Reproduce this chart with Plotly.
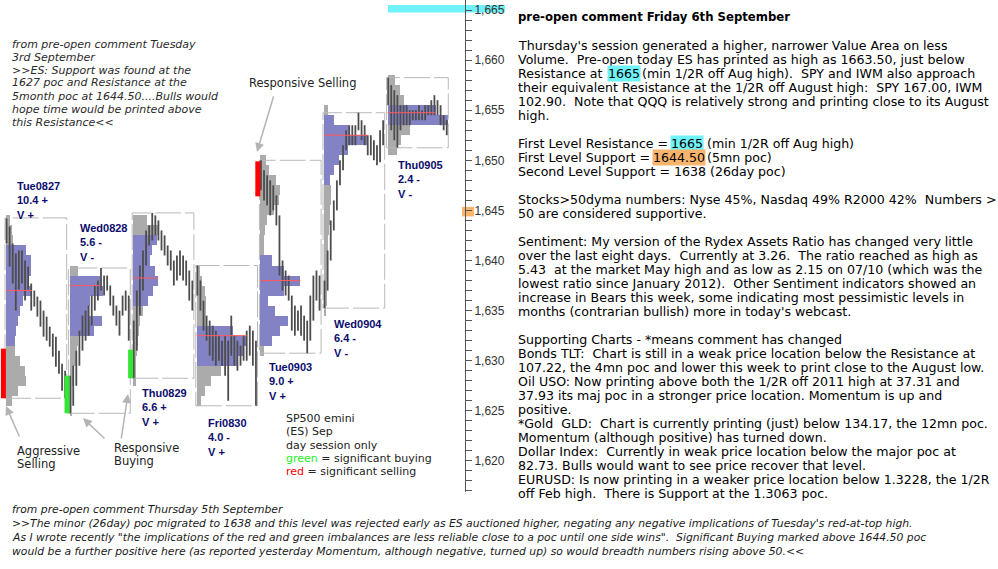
import plotly.graph_objects as go

W, H = 998, 569

# ---------------- data ----------------
days = ["Tue0827", "Wed0828", "Thu0829", "Fri0830", "Tue0903", "Wed0904", "Thu0905"]
range_txt = ["10.4 +", "5.6 -", "6.6 +", "4.0 -", "9.0 +", "6.4 -", "2.4 -"]
vol_txt = ["V +", "V -", "V +", "V +", "V +", "V -", "V -"]

day_high = [1644.25, 1639.25, 1644.75, 1639.5, 1650.0, 1654.75, 1658.25]
day_low = [1626.25, 1624.75, 1628.25, 1625.5, 1630.75, 1635.25, 1651.25]
poc = [1637.0, 1637.5, 1638.25, 1632.5, 1638.0, 1652.5, 1654.75]
va_low_lvl = [1632, 1633, 1636, 1630, 1632, 1648, 1654]
va_high_lvl = [1641, 1638, 1642, 1633, 1640, 1654, 1655]

# volume profile: lowest price level and relative volume per 1-pt level (low -> high)
prof_start = [1626, 1625, 1628, 1626, 1631, 1635, 1651]
prof_vol = [
    [6, 12, 20, 19, 14, 9, 9, 10, 12, 14, 17, 26, 22, 25, 25, 20, 7, 6, 4],
    [2, 2, 2, 3, 4, 6, 7, 8, 24, 32, 18, 20, 33, 30, 8],
    [3, 3, 3, 4, 5, 6, 7, 10, 15, 20, 25, 22, 17, 19, 24, 25, 14],
    [4, 8, 14, 24, 40, 47, 50, 36, 9, 9, 9, 8, 5, 3],
    [4, 12, 20, 28, 15, 8, 24, 40, 24, 12, 4, 4, 5, 7, 14, 19, 20, 16, 9, 6],
    [2, 3, 3, 3, 3, 3, 4, 4, 5, 6, 6, 7, 7, 6, 10, 15, 24, 44, 25, 10, 4],
    [9, 13, 22, 60, 48, 16, 12, 7],
]

# price bars (20 per session): highs and lows
bar_hi = [
    [1644.2, 1643.4, 1641.7, 1640.7, 1641.0, 1641.0, 1640.0, 1639.4, 1637.7, 1637.0,
     1636.4, 1636.0, 1635.0, 1634.4, 1633.4, 1632.7, 1632.4, 1631.0, 1629.7, 1629.0],
    [1628.5, 1629.5, 1631, 1633, 1634.5, 1635, 1635.5, 1636.5, 1637.5, 1638,
     1639.25, 1638.5, 1638.5, 1637.5, 1636.5, 1635.5, 1635, 1636.5, 1637, 1636.5],
    [1634, 1637, 1639.5, 1641, 1643, 1643.5, 1644.75, 1644.5, 1644, 1643,
     1642.5, 1641.5, 1641, 1640, 1640.5, 1641, 1640.5, 1640, 1639, 1638],
    [1639.5, 1638, 1636, 1634.5, 1634, 1633.5, 1633, 1632.5, 1632, 1632.5,
     1632, 1634.5, 1632.5, 1632, 1631.5, 1632.5, 1633, 1633.5, 1633, 1632],
    [1650, 1649, 1648.5, 1648, 1647.5, 1646.5, 1644.5, 1640, 1639, 1638.5,
     1636.5, 1635.5, 1635, 1635.5, 1634.5, 1634, 1636.5, 1638.5, 1639, 1638.5],
    [1638, 1641, 1644, 1646, 1648, 1650, 1651.5, 1653, 1653.5, 1653.5,
     1653.5, 1654.75, 1654, 1653.5, 1652.5, 1652.5, 1652, 1651.5, 1653, 1654],
    [1658.25, 1657.5, 1657, 1656.5, 1655.5, 1655.5, 1655.5, 1655, 1655, 1655,
     1655.5, 1655, 1655.5, 1655.5, 1656, 1656.5, 1656, 1655.5, 1654.5, 1654],
]
bar_lo = [
    [1641.7, 1639.4, 1637.7, 1635.0, 1637.1, 1637.7, 1636.0, 1637.1, 1635.0, 1635.4,
     1634.4, 1633.4, 1632.4, 1632.0, 1631.4, 1630.4, 1629.4, 1628.7, 1627.0, 1626.25],
    [1624.75, 1625.5, 1627.5, 1629.5, 1631, 1632, 1632.5, 1633.5, 1635, 1636,
     1637, 1636.5, 1637, 1635.5, 1634.5, 1633.5, 1632.5, 1634.5, 1635, 1632],
    [1628.25, 1631, 1634.5, 1637, 1639.5, 1641.5, 1642, 1642.5, 1642, 1641,
     1640.5, 1639.5, 1639, 1637.5, 1638, 1638.5, 1638, 1637.5, 1636, 1635],
    [1636.5, 1635, 1633, 1632, 1630.5, 1630, 1629.5, 1630, 1629.5, 1628.5,
     1626, 1630.5, 1629.5, 1629, 1629.5, 1630, 1630, 1630.5, 1629.5, 1625.5],
    [1647, 1646, 1645.5, 1644.5, 1645, 1643.5, 1638.5, 1637, 1636.5, 1636,
     1633, 1632.5, 1633, 1632.5, 1632, 1630.75, 1632, 1634, 1636, 1635],
    [1635.25, 1637, 1640, 1643, 1645, 1647.5, 1649, 1651, 1651.5, 1651.5,
     1651.5, 1653, 1652, 1651.5, 1650.5, 1650.5, 1650, 1649.5, 1649.8, 1651.5],
    [1655.5, 1653, 1652, 1651.25, 1653, 1653.5, 1653.5, 1653.5, 1654, 1654,
     1654, 1654, 1654, 1654.5, 1654.5, 1654.5, 1654.5, 1653.5, 1653, 1652.5],
]

# significant buying / selling imbalances: day index, low, high, kind
imb_day = [0, 1, 2, 4]
imb_low = [1626.25, 1624.75, 1628.25, 1646.4]
imb_high = [1631.2, 1628.5, 1631.1, 1649.9]
imb_kind = ["sell", "buy", "buy", "sell"]

resistance_1 = 1665.0
support_1 = 1644.5

# ---------------- geometry helpers ----------------
PX_PER_DAY = 63.6
X0_PX = 5.0
AXIS_PX = 465.0
XR = [(0 - X0_PX) / PX_PER_DAY, (AXIS_PX - X0_PX) / PX_PER_DAY]
PLOT_BOTTOM_PX = 492.0
PPP = 10.02  # pixels per point
YR = [1665 - (PLOT_BOTTOM_PX - 10) / PPP, 1665 + 10 / PPP]
DAY_W = 0.97
VOL_SCALE = 1.0 / PX_PER_DAY


def px(x):
    return x / W


def py(y):
    return 1 - y / H


fig = go.Figure()

GRAY = "#ababab"
BLUE = "rgba(28,28,150,0.55)"

# boxes
for i in range(len(days)):
    x0, x1 = i, i + DAY_W
    fig.add_trace(go.Scatter(
        x=[x0, x1, x1, x0, x0], y=[day_low[i], day_low[i], day_high[i], day_high[i], day_low[i]],
        mode="lines", line=dict(color="#b9b9b9", width=1, dash="26px,4px"),
        hoverinfo="skip", showlegend=False))

# gray profile (outside value area)
for i in range(len(days)):
    lv = [prof_start[i] + k for k in range(len(prof_vol[i]))]
    ys = [l for l in lv if not (va_low_lvl[i] <= l <= va_high_lvl[i])]
    xs = [prof_vol[i][l - prof_start[i]] * VOL_SCALE for l in ys]
    fig.add_trace(go.Bar(orientation="h", y=ys, x=xs, base=[i + 0.015] * len(ys), width=1.0,
                         marker=dict(color=GRAY, line=dict(width=0)), hoverinfo="skip",
                         showlegend=False))

# price bars
px_list, py_list = [], []
for i in range(len(days)):
    n = len(bar_hi[i])
    for j in range(n):
        xx = i + (j + 0.5) / n * DAY_W
        px_list += [xx, xx, None]
        py_list += [bar_lo[i][j], bar_hi[i][j], None]
fig.add_trace(go.Scatter(x=px_list, y=py_list, mode="lines",
                         line=dict(color="#4d4d4d", width=1.8), hoverinfo="skip", showlegend=False))

# value area (blue, translucent)
for i in range(len(days)):
    lv = [prof_start[i] + k for k in range(len(prof_vol[i]))]
    ys = [l for l in lv if va_low_lvl[i] <= l <= va_high_lvl[i]]
    xs = [prof_vol[i][l - prof_start[i]] * VOL_SCALE for l in ys]
    fig.add_trace(go.Bar(orientation="h", y=ys, x=xs, base=[i + 0.015] * len(ys), width=1.0,
                         marker=dict(color=BLUE, line=dict(width=0)), hoverinfo="skip",
                         showlegend=False))

# POC lines
for i in range(len(days)):
    lvl = int(round(poc[i]))
    w = prof_vol[i][lvl - prof_start[i]] * VOL_SCALE
    fig.add_trace(go.Scatter(x=[i + 0.015, i + 0.015 + w], y=[poc[i], poc[i]], mode="lines",
                             line=dict(color="#ff5a5a", width=1), hoverinfo="skip",
                             showlegend=False))

# imbalance marks
for d, lo, hi, k in zip(imb_day, imb_low, imb_high, imb_kind):
    fig.add_trace(go.Scatter(x=[d - 0.025, d - 0.025], y=[lo, hi], mode="lines",
                             line=dict(color="#ff0000" if k == "sell" else "#33e633", width=5),
                             hoverinfo="skip", showlegend=False))

# ---------------- layout ----------------
shapes = [
    dict(type="rect", xref="paper", yref="y", x0=px(388), x1=px(505),
         y0=resistance_1 - 0.25, y1=resistance_1 + 0.5, fillcolor="#6ff2fa", line_width=0, layer="below"),
    dict(type="rect", xref="paper", yref="y", x0=px(462), x1=px(474),
         y0=support_1 - 0.1, y1=support_1 + 0.85, fillcolor="#f9b46e", line_width=0, layer="below"),
]

ann = []


def text(s, x, y, size, color="#000000", family="DejaVu Sans", bg=None, xanchor="left"):
    d = dict(text=s, x=px(x), y=py(y), xref="paper", yref="paper", xanchor=xanchor,
             yanchor="middle", showarrow=False, align="left",
             font=dict(size=size, color=color, family=family), borderpad=0)
    if bg:
        d["bgcolor"] = bg
    ann.append(d)


RF = 12.6
RX = 517
text("<b>pre-open comment Friday 6th September</b>", RX, 17.3, 11.7)
right_lines = [
    "Thursday's session generated a higher, narrower Value Area on less",
    "Volume.  Pre-open today ES has printed as high as 1663.50, just below",
    None,
    "their equivalent Resistance at the 1/2R off August high:  SPY 167.00, IWM",
    "102.90.  Note that QQQ is relatively strong and printing close to its August",
    "high.",
    "",
    None,
    None,
    "Second Level Support = 1638 (26day poc)",
    "",
    "Stocks>50dyma numbers: Nyse 45%, Nasdaq 49% R2000 42%  Numbers >",
    "50 are considered supportive.",
    "",
    "Sentiment: My version of the Rydex Assets Ratio has changed very little",
    "over the last eight days.  Currently at 3.26.  The ratio reached as high as",
    "5.43  at the market May high and as low as 2.15 on 07/10 (which was the",
    "lowest ratio since January 2012).  Other Sentiment indicators showed an",
    "increase in Bears this week, some indicating most pessimistic levels in",
    "months (contrarian bullish) more in today's webcast.",
    "",
    "Supporting Charts - *means comment has changed",
    "Bonds TLT:  Chart is still in a weak price location below the Resistance at",
    "107.22, the 4mn poc and lower this week to print close to the August low.",
    "Oil USO: Now printing above both the 1/2R off 2011 high at 37.31 and",
    "37.93 its maj poc in a stronger price location. Momentum is up and",
    "positive.",
    "*Gold  GLD:  Chart is currently printing (just) below 134.17, the 12mn poc.",
    "Momentum (although positive) has turned down.",
    "Dollar Index:  Currently in weak price location below the major poc at",
    "82.73. Bulls would want to see price recover that level.",
    "EURUSD: Is now printing in a weaker price location below 1.3228, the 1/2R",
    "off Feb high.  There is Support at the 1.3063 poc.",
]
for k, s in enumerate(right_lines):
    y = 45.7 + 14 * k
    if s:
        text(s, RX, y, RF)
# lines with highlighted numbers
y2 = 45.7 + 14 * 2
text("Resistance at", RX, y2, RF)
text("1665", 606.5, y2, RF, bg="#6ff2fa")
text("(min 1/2R off Aug high).  SPY and IWM also approach", 641, y2, RF)
y7 = 45.7 + 14 * 7
text("First Level Resistance =", RX, y7, RF)
text("1665", 670, y7, RF, bg="#6ff2fa")
text("(min 1/2R off Aug high)", 706, y7, RF)
y8 = 45.7 + 14 * 8
text("First Level Support =", RX, y8, RF)
text("1644.50", 652, y8, RF, bg="#f9b46e")
text("(5mn poc)", 706, y8, RF)

# top-left italic comment
tl = ["from pre-open comment Tuesday", "3rd September", ">>ES: Support was found at the",
      "1627 poc and Resistance at the", "5month poc at 1644.50....Bulls would",
      "hope time would be printed above", "this Resistance<<"]
for k, s in enumerate(tl):
    text("<i>" + s + "</i>", 11, 44 + 13 * k, 11.0, color="#2a2a2a")

# bottom italic comment
bl = ["from pre-open comment Thursday 5th September",
      ">>The minor (26day) poc migrated to 1638 and this level was rejected early as ES auctioned higher, negating any negative implications of Tuesday's red-at-top high.",
      "As I wrote recently \"the implications of the red and green imbalances are less reliable close to a poc until one side wins\".  Significant Buying marked above 1644.50 poc",
      "would be a further positive here (as reported yesterday Momentum, although negative, turned up) so would breadth numbers rising above 50.<<"]
for k, s in enumerate(bl):
    text("<i>" + s + "</i>", 11, 509 + 14 * k, 10.8, color="#1a1a1a")

# day labels
lab_xy = [(15, 185), (78, 227), (140, 392), (206, 422), (267, 366), (332, 323), (396, 164)]
for i, (lx, ly) in enumerate(lab_xy):
    ann.append(dict(text="<b>" + days[i] + "<br>" + range_txt[i] + "<br>" + vol_txt[i] + "</b>",
                    x=px(lx), y=py(ly - 7), xref="paper", yref="paper", xanchor="left", yanchor="top",
                    showarrow=False, align="left",
                    font=dict(size=11, color="#0c0c6e", family="Liberation Sans")))

# notes on chart
text("Responsive Selling", 248, 83, 11.5, color="#222222")
text("Aggressive", 16, 451, 11.5, color="#222222")
text("Selling", 16, 464, 11.5, color="#222222")
text("Responsive", 113, 448, 11.5, color="#222222")
text("Buying", 113, 461, 11.5, color="#222222")

leg = ["SP500 emini", "(ES) Sep", "day session only",
       "<span style='color:#22ee22'>green</span> = significant buying",
       "<span style='color:#ff0000'>red</span> = significant selling"]
for k, s in enumerate(leg):
    text(s, 285, 418.5 + 13.3 * k, 11, color="#222222")

# arrows (head, tail) in pixels
arrows = [((6, 406), (20, 438)), ((83, 418), (106, 440)), ((128, 394), (121, 440)),
          ((257, 152), (274, 95))]
for (hx, hy), (tx, ty) in arrows:
    ann.append(dict(text="", x=px(hx), y=py(hy), xref="paper", yref="paper", showarrow=True,
                    ax=tx - hx, ay=ty - hy, axref="pixel", ayref="pixel", arrowhead=2,
                    arrowsize=1.2, arrowwidth=1.5, arrowcolor="#b4b4b4", standoff=0))

fig.update_layout(
    width=W, height=H, margin=dict(l=0, r=0, t=0, b=0),
    paper_bgcolor="white", plot_bgcolor="white", barmode="overlay", bargap=0,
    showlegend=False, shapes=shapes, annotations=ann,
    xaxis=dict(domain=[0, AXIS_PX / W], range=XR, visible=False, fixedrange=True),
    yaxis=dict(domain=[1 - PLOT_BOTTOM_PX / H, 1], range=YR, side="right", anchor="x",
               showgrid=False, zeroline=False, showline=True, linecolor="#555555", linewidth=1,
               ticks="outside", ticklen=6, tickcolor="#555555", dtick=5, tick0=1620,
               tickformat=",d", tickfont=dict(family="Liberation Sans", size=12, color="#333333"),
               minor=dict(dtick=1, ticks="outside", ticklen=6, tickcolor="#555555"),
               fixedrange=True),
)

fig.write_html("out.html", config={"displayModeBar": False},
               post_script="document.body.style.margin='0px';document.body.style.overflow='hidden';")
